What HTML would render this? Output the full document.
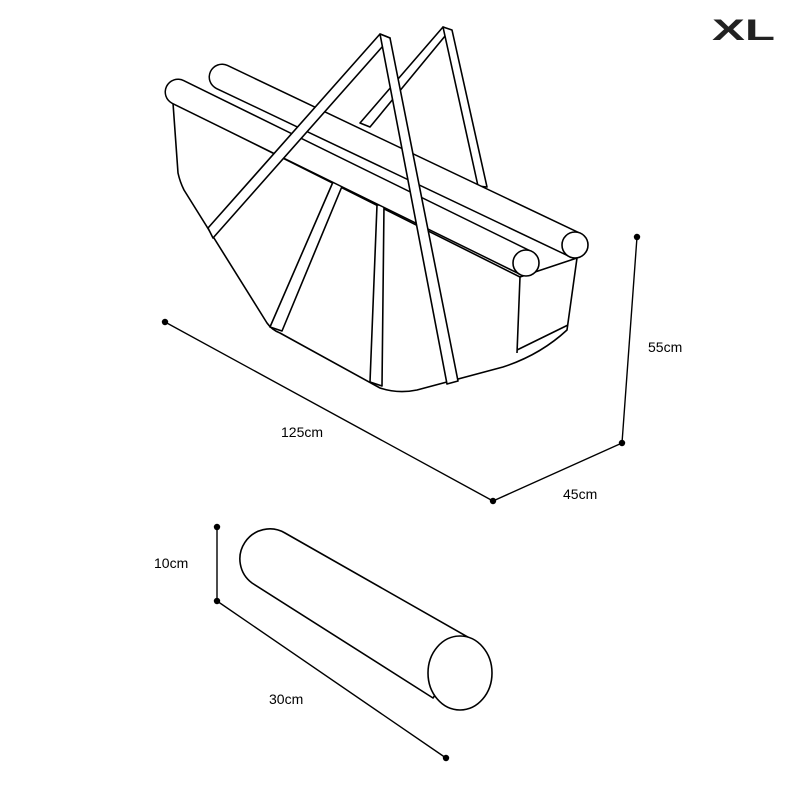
<!DOCTYPE html>
<html><head><style>html,body{margin:0;padding:0;background:#fff}svg{display:block}</style></head>
<body>
<svg width="800" height="800" viewBox="0 0 800 800" xmlns="http://www.w3.org/2000/svg">
<g fill="#fff" stroke="#000" stroke-width="1.6" stroke-linejoin="round">
<!-- basket body -->
<path d="M173,103 L178,173 Q180,182 184,190 L267,323 Q272,330 280,333 L380,388 Q398,394 417,390 L503,367 Q540,355 567,330 L577,258 L520,277 Z"/>
<path d="M520,277 L517,353 M517,350 L568,325" fill="none"/>
<!-- right handle (behind) -->
<polygon points="270,327 282,331 343,184 333,182"/>
<polygon points="360,123 370,127 450,30 443,27"/>
<polygon points="443,27 452,30 487,187 478,186"/>
<polygon points="370,382 382,386 384,205 377,205"/>
<!-- back rod -->
<line x1="222" y1="77" x2="575" y2="245" stroke-width="27" stroke-linecap="round"/>
<line x1="222" y1="77" x2="575" y2="245" stroke="#fff" stroke-width="24" stroke-linecap="round"/>
<circle cx="575" cy="245" r="13"/>
<!-- front rod -->
<line x1="178" y1="92" x2="526" y2="263" stroke-width="27" stroke-linecap="round"/>
<line x1="178" y1="92" x2="526" y2="263" stroke="#fff" stroke-width="24" stroke-linecap="round"/>
<circle cx="526" cy="263" r="13"/>
<!-- left handle -->
<polygon points="208,228 213,238 390,38 380,34"/>
<polygon points="380,34 390,38 458,381 447,384"/>
<!-- dimensions -->
<g fill="none" stroke-width="1.4">
<polyline points="165,322 493,501 622,443 637,237"/>
<polyline points="217,527 217,601 446,758"/>
</g>
<g fill="#000" stroke="none">
<circle cx="165" cy="322" r="3.2"/><circle cx="493" cy="501" r="3.2"/><circle cx="622" cy="443" r="3.2"/><circle cx="637" cy="237" r="3.2"/>
<circle cx="217" cy="527" r="3.2"/><circle cx="217" cy="601" r="3.2"/><circle cx="446" cy="758" r="3.2"/>
</g>
<!-- cylinder -->
<path d="M285,533 L473,640 L433,698 L252,583 A30,30 0 0 1 285,533 Z"/>
<ellipse cx="460" cy="673" rx="32" ry="37"/>
</g>
<g font-family="Liberation Sans, sans-serif" font-size="14" fill="#000">
<text x="281" y="437">125cm</text>
<text x="563" y="499">45cm</text>
<text x="648" y="352">55cm</text>
<text x="154" y="568">10cm</text>
<text x="269" y="704">30cm</text>
</g>
<text x="712" y="40" font-family="Liberation Sans, sans-serif" font-size="30" font-weight="bold" fill="#222" textLength="63" lengthAdjust="spacingAndGlyphs">XL</text>
</svg>
</body></html>
